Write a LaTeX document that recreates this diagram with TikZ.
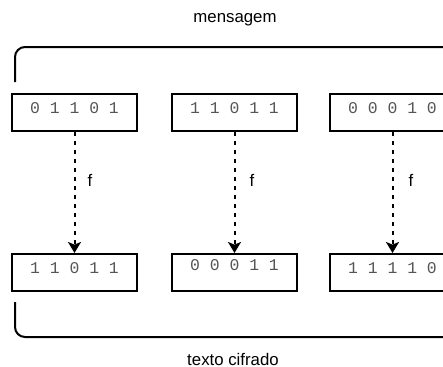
\documentclass[tikz,border=0pt]{standalone}
\usepackage{fontspec}
\setmainfont{Liberation Sans}
\setmonofont{Liberation Mono}
\usetikzlibrary{arrows.meta, positioning}
\definecolor{bitgray}{HTML}{555555}

\begin{document}
\begin{tikzpicture}
        [
          x=0.5pt, y=-0.5pt,
          block/.style={draw, line width=1pt, inner sep=0pt, minimum width=62.5pt,
            text height=9.5pt, text depth=9pt, font=\ttfamily\fontsize{8.2}{9}\selectfont,
            text=bitgray},
          flow/.style={line width=1pt, dash pattern=on 2.2pt off 2.3pt,
            -{Stealth[length=5.5pt,width=6.5pt,inset=1.3pt]}},
          flabel/.style={anchor=west, font=\fontsize{8.4}{9}\selectfont, inner sep=0pt},
          label/.style={anchor=base, font=\fontsize{8.4}{9}\selectfont}
        ]
        \useasboundingbox (0,0) rectangle (443,366);
        % mensagem
        \draw[line width=1pt, rounded corners=5pt] (15,82) -- (15,47) -- (460,47);
        \node [label] (msg) at (235,22) {mensagem};
        \node [block] (m1) at (74.5,112.5) {0 1 1 0 1};
        \node [block] (m2) at (234.5,112.5) {1 1 0 1 1};
        \node [block] (m3) at (392.5,112.5) {0 0 0 1 0};
        % texto cifrado
        \draw[line width=1pt, rounded corners=5pt] (15,302) -- (15,337) -- (460,337);
        \node [label] (ct) at (233,365) {texto cifrado};
        \node [block] (c1) at (74.5,272.5) {1 1 0 1 1};
        \node [block, text height=8pt, text depth=10.5pt] (c2) at (234.5,272.5) {0 0 0 1 1};
        \node [block] (c3) at (392.5,272.5) {1 1 1 1 0};
        % f
        \foreach \i/\d in {1/16, 2/18, 3/19} {
            \draw [flow] (m\i) -- node [flabel, pos=0.4, xshift=\d*0.5pt-2pt] {f} (c\i);
        }
      \end{tikzpicture}
\end{document}
